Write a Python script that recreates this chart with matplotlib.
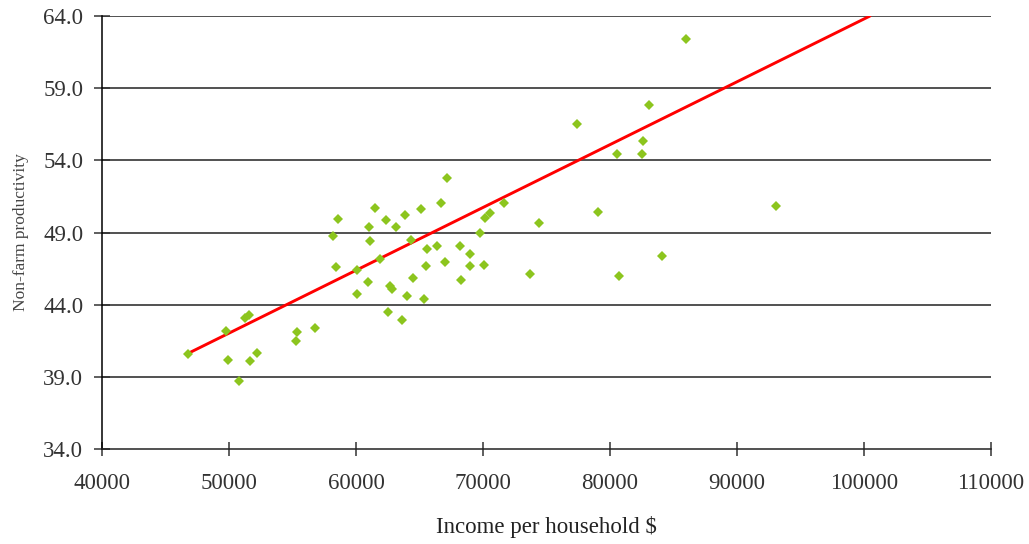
import matplotlib.pyplot as plt
import numpy as np

# Income per household ($) and non-farm productivity
income = [
    46770, 49760, 49920, 50790, 51260, 51570, 51650, 52200, 55350, 55280,
    56770, 58190, 58430, 58580, 60080, 60080, 60940, 61020, 61100, 61500,
    61890, 62360, 62520, 62680, 62830, 63150, 63620, 63860, 64020, 64330,
    64490, 65120, 65350, 65510, 65590, 66380, 66690, 67010, 67170, 68190,
    68270, 68980, 68980, 69760, 70080, 70160, 70550, 71650, 73700, 74410,
    77400, 79060, 80550, 80710, 82520, 82600, 83070, 84090, 85980, 93070,
]
productivity = [
    40.58, 42.17, 40.17, 38.71, 43.07, 43.28, 40.10, 40.65, 42.11, 41.48,
    42.38, 48.76, 46.61, 49.93, 46.40, 44.74, 45.57, 49.38, 48.41, 50.70,
    47.16, 49.87, 43.49, 45.29, 45.08, 49.38, 42.94, 50.21, 44.60, 48.48,
    45.85, 50.63, 44.39, 46.68, 47.86, 48.06, 51.04, 46.96, 52.78, 48.06,
    45.71, 47.51, 46.68, 48.96, 46.75, 50.00, 50.35, 51.04, 46.12, 49.66,
    56.52, 50.42, 54.44, 45.99, 54.44, 55.34, 57.83, 47.37, 62.41, 50.84,
]

# linear trend line end points
trend_x = [46770, 100470]
trend_y = [40.62, 64.0]

x_ticks = [40000, 50000, 60000, 70000, 80000, 90000, 100000, 110000]
y_ticks = [34.0, 39.0, 44.0, 49.0, 54.0, 59.0, 64.0]

plt.rcParams["font.family"] = ["Liberation Serif", "DejaVu Serif"]

fig = plt.figure(figsize=(10.29, 5.44), dpi=100)
ax = fig.add_axes([0.0991, 0.1746, 0.8640, 0.7960])

for yv in y_ticks[1:]:
    ax.axhline(yv, color="#222222", linewidth=1.1, zorder=1)

ax.plot(trend_x, trend_y, color="#ff0000", linewidth=2.1, zorder=2,
        solid_capstyle="round", clip_on=True)
ax.plot(income, productivity, linestyle="none", marker="D", markersize=5.5,
        color="#8cc51e", markeredgewidth=0, zorder=3)

ax.set_xlim(40000, 110000)
ax.set_ylim(34.0, 64.0)
ax.set_xticks(x_ticks)
ax.set_xticklabels([str(v) for v in x_ticks])
ax.set_yticks(y_ticks)
ax.set_yticklabels([f"{v:.1f}" for v in y_ticks])

for side in ["top", "right"]:
    ax.spines[side].set_visible(False)
ax.spines["left"].set_linewidth(1.1)
ax.spines["bottom"].set_linewidth(1.1)
ax.spines["bottom"].set_color("#222222")

ax.tick_params(axis="y", direction="inout", length=11, width=1.1,
               labelsize=16.5, pad=8, colors="#333333")
ax.tick_params(axis="x", direction="inout", length=10, width=1.1,
               labelsize=16.5, pad=12, colors="#333333")

ax.set_xlabel("Income per household $", fontsize=16.5, labelpad=16,
              color="#222222")
ax.set_ylabel("Non-farm productivity", fontsize=12.5, labelpad=5,
              color="#444444")
ax.yaxis.set_label_coords(-0.082, 0.5)

fig.savefig("out.png", dpi=100)
